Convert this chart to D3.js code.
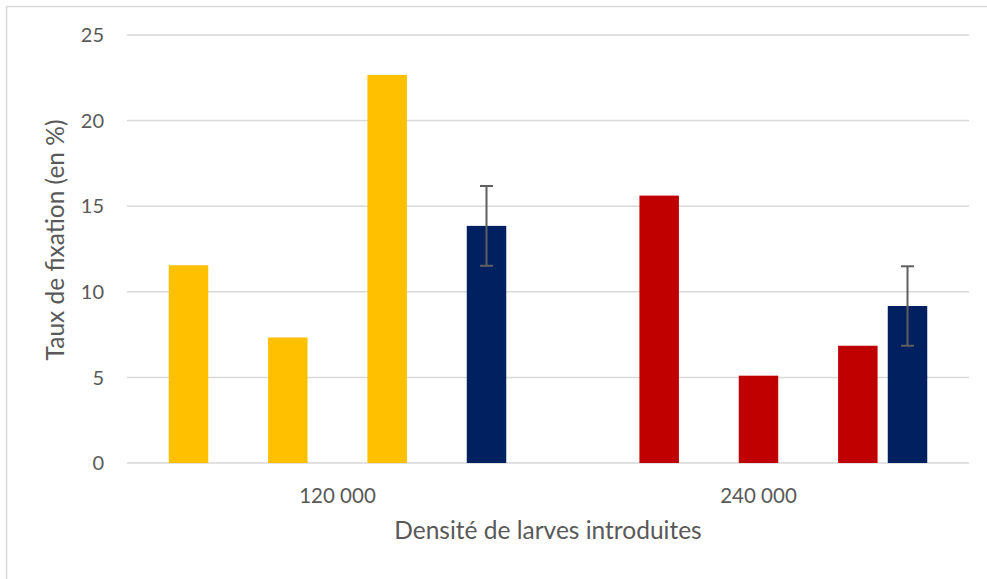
<!DOCTYPE html>
<html><head><meta charset="utf-8">
<script src="https://cdn.jsdelivr.net/npm/d3@7"></script>
<style>body{margin:0;background:#fff}svg{display:block}text{font-family:Lato,"Open Sans",sans-serif;fill:#595959}</style>
</head><body><svg id="c" width="987" height="579"></svg>
<script>
const categories = ["120 000", "240 000"];
const seriesNames = ["Y1","R1","Y2","R2","Y3","R3","Moyenne"];
const seriesColors = ["#FFC000","#C00000","#FFC000","#C00000","#FFC000","#C00000","#002060"];
// values per series, one per category (null = absent)
const valuesY1 = [11.55, null];
const valuesR1 = [null, 15.62];
const valuesY2 = [7.33, null];
const valuesR2 = [null, 5.1];
const valuesY3 = [22.67, null];
const valuesR3 = [null, 6.85];
const valuesMean = [13.85, 9.17];
const errorMean = [2.33, 2.32];
const yTicks = [0,5,10,15,20,25];

const seriesValues = [valuesY1,valuesR1,valuesY2,valuesR2,valuesY3,valuesR3,valuesMean];

const svg = d3.select("#c");
const L = 127, R = 969, T = 35, B = 463;

svg.append("line").attr("x1",6.5).attr("x2",6.5).attr("y1",6).attr("y2",579).attr("stroke","#D9D9D9").attr("stroke-width",1.5);
svg.append("line").attr("x1",6).attr("x2",987).attr("y1",6.5).attr("y2",6.5).attr("stroke","#D9D9D9").attr("stroke-width",1.5);

const y = d3.scaleLinear().domain([0,25]).range([B,T]);
const x0 = d3.scaleBand().domain(categories).range([L,R]).paddingInner(0).paddingOuter(0);
const x1 = d3.scaleBand().domain(seriesNames).range([41.75, x0.bandwidth()-41.75]).paddingInner(0.205).paddingOuter(0);

// gridlines
svg.append("g").selectAll("line").data(yTicks).join("line")
  .attr("x1",L).attr("x2",R).attr("y1",d=>y(d)).attr("y2",d=>y(d))
  .attr("stroke","#D9D9D9").attr("stroke-width",1.5);

// y tick labels
svg.append("g").selectAll("text").data(yTicks).join("text")
  .attr("x",104).attr("y",d=>y(d)).attr("dy","0.36em").attr("text-anchor","end")
  .attr("font-size",20).text(d=>d);

// bars
const bars = [];
seriesNames.forEach((s,si)=>{
  categories.forEach((c,ci)=>{
    const v = seriesValues[si][ci];
    if (v!=null) bars.push({s,si,c,ci,v});
  });
});
svg.append("g").selectAll("rect").data(bars).join("rect")
  .attr("x",d=>x0(d.c)+x1(d.s)).attr("width",x1.bandwidth())
  .attr("y",d=>y(d.v)).attr("height",d=>y(0)-y(d.v))
  .attr("fill",d=>seriesColors[d.si]);

// error bars
const eb = categories.map((c,ci)=>({c, v:valuesMean[ci], e:errorMean[ci]}));
const eg = svg.append("g").attr("stroke","#5F5F5F").attr("stroke-width",2);
eb.forEach(d=>{
  const cx = x0(d.c)+x1("Moyenne")+x1.bandwidth()/2;
  eg.append("line").attr("x1",cx).attr("x2",cx).attr("y1",y(d.v+d.e)).attr("y2",y(d.v-d.e));
  [d.v+d.e,d.v-d.e].forEach(t=>eg.append("line").attr("x1",cx-6.5).attr("x2",cx+6.5).attr("y1",y(t)).attr("y2",y(t)));
});

// category labels
svg.append("g").selectAll("text").data(categories).join("text")
  .attr("x",d=>x0(d)+x0.bandwidth()/2).attr("y",503).attr("text-anchor","middle")
  .attr("font-size",20.5).text(d=>d);

// axis titles
svg.append("text").attr("x",548).attr("y",539).attr("text-anchor","middle").attr("font-size",24.5)
  .text("Densité de larves introduites");
svg.append("text").attr("transform","translate(64,240) rotate(-90)").attr("text-anchor","middle").attr("font-size",24.5)
  .text("Taux de fixation (en %)");
</script></body></html>
